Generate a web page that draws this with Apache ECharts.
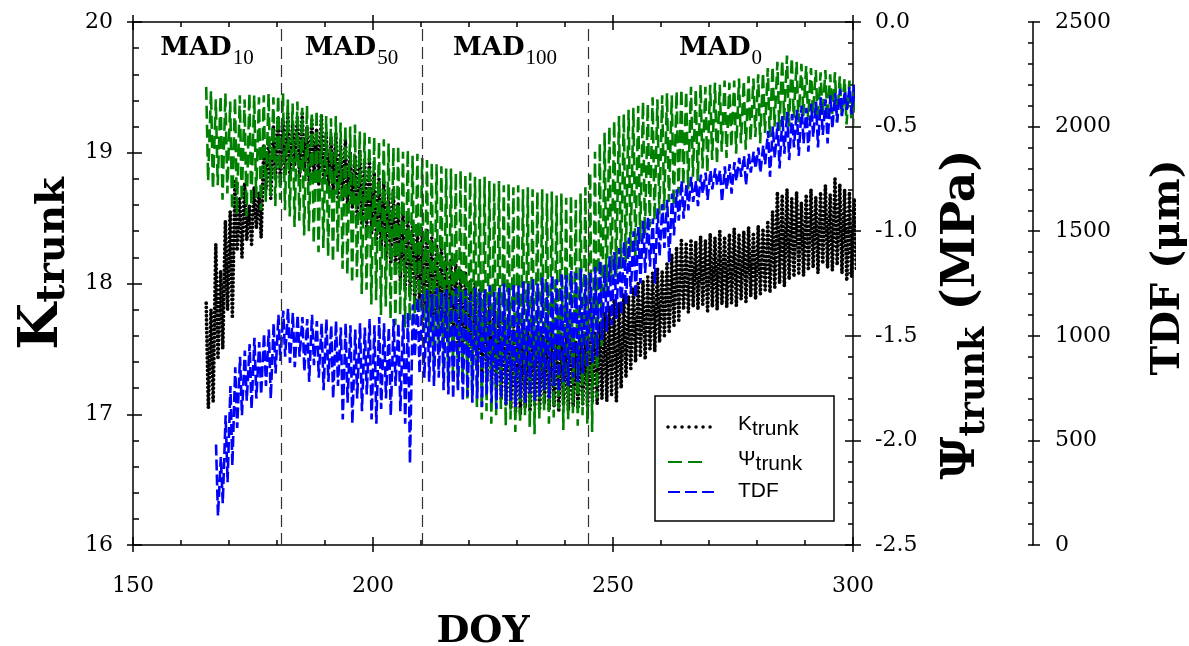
<!DOCTYPE html>
<html><head><meta charset="utf-8">
<script src="https://cdn.jsdelivr.net/npm/echarts@6/dist/echarts.min.js"></script>
<style>html,body{margin:0;padding:0;background:#fff}#c{width:1189px;height:646px}</style>
</head><body><div id="c"></div>
<script>
// ---------- data (daily maxima / minima) ----------
const kStart = 165;
const kHigh = [17.85,17.80,18.30,18.10,18.48,18.55,18.78,18.65,18.77,18.60,
18.74,18.70,19.05,19.10,19.20,19.28,19.25,19.30,19.22,19.27,
19.30,19.20,19.25,19.18,19.28,19.15,19.12,19.15,19.05,19.10,
19.00,18.98,19.02,18.92,18.95,18.85,18.80,18.78,18.70,18.72,
18.62,18.55,18.52,18.48,18.45,18.40,18.42,18.35,18.30,18.28,
18.22,18.18,18.15,18.10,18.08,18.02,18.00,17.95,17.92,17.88,
17.85,17.80,17.76,17.72,17.70,17.68,17.66,17.65,17.62,17.64,
17.60,17.62,17.64,17.60,17.62,17.58,17.60,17.56,17.60,17.62,
17.58,17.62,17.70,17.78,17.82,17.88,17.85,17.92,17.90,17.96,
18.00,18.02,18.05,18.08,18.12,18.10,18.15,18.22,18.28,18.33,
18.30,18.34,18.32,18.36,18.33,18.38,18.35,18.40,18.36,18.38,
18.42,18.37,18.40,18.43,18.39,18.44,18.42,18.48,18.55,18.70,
18.68,18.72,18.65,18.70,18.62,18.68,18.72,18.66,18.70,18.75,
18.68,18.80,18.76,18.72,18.70,18.65];
const kLow = [17.05,17.10,17.42,17.50,17.80,17.75,18.25,18.20,18.33,18.30,
18.42,18.35,18.72,18.65,18.80,18.78,18.85,18.80,18.90,18.82,
18.86,18.78,18.84,18.75,18.80,18.72,18.70,18.66,18.64,18.60,
18.58,18.50,18.45,18.42,18.38,18.33,18.28,18.20,18.15,18.10,
18.02,17.96,17.92,17.85,17.82,17.78,17.75,17.72,17.68,17.62,
17.58,17.55,17.50,17.48,17.42,17.40,17.35,17.30,17.25,17.22,
17.18,17.12,17.08,17.05,17.02,17.00,17.05,17.02,17.06,17.03,
17.08,17.04,17.06,17.02,17.07,17.03,17.06,17.04,17.08,17.05,
17.10,17.08,17.12,17.10,17.15,17.10,17.20,17.28,17.35,17.40,
17.45,17.42,17.50,17.48,17.55,17.60,17.62,17.68,17.72,17.80,
17.78,17.82,17.80,17.84,17.79,17.82,17.80,17.84,17.82,17.85,
17.83,17.88,17.86,17.90,17.88,17.92,17.95,17.93,17.97,18.00,
17.98,18.03,18.05,18.08,18.06,18.10,18.12,18.08,18.15,18.12,
18.10,18.14,18.08,18.02,18.05,18.10];

const psiStart = 165;
const psiHigh = [-0.31,-0.33,-0.37,-0.35,-0.34,-0.38,-0.36,-0.35,-0.37,-0.34,
-0.35,-0.36,-0.35,-0.34,-0.36,-0.35,-0.34,-0.37,-0.39,-0.38,
-0.41,-0.40,-0.43,-0.42,-0.44,-0.45,-0.46,-0.45,-0.48,-0.49,
-0.50,-0.49,-0.52,-0.53,-0.55,-0.55,-0.57,-0.56,-0.58,-0.60,
-0.59,-0.62,-0.61,-0.64,-0.63,-0.65,-0.66,-0.67,-0.68,-0.69,
-0.70,-0.70,-0.72,-0.71,-0.73,-0.72,-0.74,-0.75,-0.74,-0.76,
-0.77,-0.76,-0.78,-0.77,-0.79,-0.78,-0.80,-0.79,-0.80,-0.81,
-0.80,-0.82,-0.81,-0.83,-0.82,-0.84,-0.83,-0.85,-0.82,-0.79,
-0.72,-0.62,-0.58,-0.53,-0.50,-0.47,-0.45,-0.44,-0.42,-0.41,
-0.40,-0.38,-0.39,-0.36,-0.37,-0.35,-0.34,-0.35,-0.33,-0.32,
-0.33,-0.31,-0.32,-0.30,-0.31,-0.30,-0.29,-0.30,-0.28,-0.29,
-0.28,-0.27,-0.28,-0.26,-0.27,-0.25,-0.24,-0.22,-0.21,-0.19,
-0.18,-0.16,-0.17,-0.19,-0.20,-0.21,-0.22,-0.23,-0.24,-0.23,
-0.25,-0.24,-0.26,-0.27,-0.28,-0.30];
const psiLow = [-0.76,-0.80,-0.78,-0.85,-0.82,-0.90,-0.92,-0.86,-0.93,-0.88,
-0.84,-0.90,-0.86,-0.83,-0.88,-0.85,-0.90,-0.93,-0.98,-0.95,
-1.02,-1.00,-1.06,-1.10,-1.08,-1.12,-1.15,-1.10,-1.18,-1.21,
-1.25,-1.22,-1.30,-1.28,-1.35,-1.33,-1.40,-1.36,-1.42,-1.45,
-1.40,-1.46,-1.43,-1.44,-1.40,-1.48,-1.55,-1.62,-1.58,-1.66,
-1.70,-1.68,-1.75,-1.72,-1.80,-1.78,-1.84,-1.90,-1.86,-1.92,
-1.88,-1.85,-1.93,-1.90,-1.96,-1.92,-1.88,-1.94,-1.97,-1.90,
-1.86,-1.92,-1.89,-1.85,-1.95,-1.90,-1.87,-1.93,-1.88,-1.92,
-1.96,-1.80,-1.55,-1.30,-1.25,-1.22,-1.18,-1.15,-1.10,-1.12,
-1.05,-1.02,-0.98,-0.95,-0.92,-0.90,-0.86,-0.88,-0.82,-0.78,
-0.80,-0.74,-0.76,-0.70,-0.72,-0.66,-0.68,-0.62,-0.65,-0.60,
-0.63,-0.58,-0.61,-0.57,-0.55,-0.58,-0.53,-0.55,-0.50,-0.52,
-0.47,-0.50,-0.46,-0.48,-0.45,-0.47,-0.44,-0.48,-0.45,-0.47,
-0.44,-0.48,-0.45,-0.49,-0.46,-0.50];

const tdfStart = 167;
const tdfHigh = [480,420,620,760,850,900,930,960,990,970,
1010,1030,1060,1100,1120,1130,1110,1100,1090,1080,
1100,1070,1060,1080,1050,1070,1040,1060,1050,1030,
1060,1040,1080,1050,1090,1060,1040,1080,1060,1100,
1110,1150,1180,1200,1220,1200,1230,1210,1220,1200,
1230,1210,1220,1200,1230,1210,1220,1240,1210,1230,
1250,1230,1250,1240,1260,1250,1270,1250,1280,1260,
1290,1270,1300,1290,1310,1300,1320,1290,1300,1330,
1360,1340,1380,1400,1420,1450,1470,1500,1520,1550,
1570,1560,1610,1630,1650,1680,1700,1740,1720,1760,
1740,1770,1780,1790,1800,1790,1810,1820,1830,1850,
1860,1870,1880,1900,1910,1980,2000,2020,2050,2070,
2060,2080,2100,2090,2110,2120,2140,2130,2150,2160,
2180,2170,2190,2200];
const tdfLow = [140,200,300,380,560,620,690,650,700,720,
760,700,820,880,900,870,850,900,830,780,
860,800,740,780,700,760,600,680,580,700,
640,720,600,580,650,700,620,760,640,580,
390,900,820,800,780,760,800,740,720,700,
740,690,710,680,700,660,720,680,650,700,
670,690,660,700,680,720,690,710,740,700,
760,730,780,760,800,780,820,850,870,900,
980,1020,1050,1080,1100,1150,1200,1180,1250,1300,
1330,1250,1380,1420,1350,1480,1550,1560,1600,1640,
1620,1680,1650,1700,1720,1640,1700,1680,1740,1760,
1720,1780,1800,1780,1820,1760,1850,1800,1870,1840,
1900,1860,1920,1880,1950,1900,1960,1920,1990,2020,
2050,2080,2060,2100];

const treatmentBounds = [180.8, 210.2, 244.8];
const treatmentSubs = ['10', '50', '100', '0'];
const doyRange = [150, 300];
const kRange = [16, 20];
const psiRange = [-2.5, 0];
const tdfRange = [0, 2500];

// ---------- build diurnal series (one max and one min per day) ----------
function diurnal(start, hi, lo, tHi, tLo) {
  const out = [];
  for (let i = 0; i < hi.length; i++) {
    out.push([start + i + tHi, hi[i]]);
    out.push([start + i + tLo, lo[i]]);
  }
  return out;
}
const kData = diurnal(kStart, kHigh, kLow, 0.25, 0.7);
const psiData = diurnal(psiStart, psiHigh, psiLow, 0.25, 0.65);
const tdfData = diurnal(tdfStart, tdfHigh, tdfLow, 0.3, 0.7);

const SERIF = 'DejaVu Serif';
const SANS = 'Liberation Sans';
const black = {color: '#000', width: 1.5};
const lbl = {fontFamily: SERIF, fontSize: 22, color: '#000'};

function xAx(pos, inside, len, main) {
  return {type: 'value', gridIndex: 0, position: pos, min: doyRange[0], max: doyRange[1], interval: 50,
    axisLine: {show: main, onZero: false, lineStyle: black},
    axisTick: {show: true, inside: inside, length: len, lineStyle: black},
    minorTick: {show: main, splitNumber: 5, length: 5, lineStyle: black},
    splitLine: {show: false}, minorSplitLine: {show: false},
    axisLabel: {show: false}};
}
function yAx(pos, offset, range, interval, inside, len, main, minorLen) {
  return {type: 'value', gridIndex: 0, position: pos, offset: offset, min: range[0], max: range[1], interval: interval,
    axisLine: {show: main, onZero: false, lineStyle: black},
    axisTick: {show: true, inside: inside, length: len, lineStyle: black},
    minorTick: {show: main, splitNumber: 5, length: minorLen || 5, lineStyle: black},
    splitLine: {show: false}, minorSplitLine: {show: false},
    axisLabel: {show: false}};
}

const xMain = xAx('bottom', true, 8, true);
xMain.axisLabel = Object.assign({show: true, margin: 30}, lbl);
xMain.name = 'DOY'; xMain.nameLocation = 'middle'; xMain.nameGap = 68;
xMain.nameTextStyle = {fontFamily: SERIF, fontWeight: 'bold', fontSize: 38, color: '#000', padding: [0, 20, 0, 0]};

const yK = yAx('left', 0, kRange, 1, true, 9, true, 6);
yK.axisLabel = Object.assign({show: true, margin: 20}, lbl);
yK.name = 'K{s|trunk}'; yK.nameLocation = 'middle'; yK.nameRotate = 90; yK.nameGap = 72;
yK.nameTextStyle = {fontFamily: SERIF, fontWeight: 'bold', fontSize: 54, color: '#000', lineHeight: 58, verticalAlign: 'top',
  padding: [0, 0, 0, 40],
  rich: {s: {fontFamily: SERIF, fontWeight: 'bold', fontSize: 40, lineHeight: 42, verticalAlign: 'top', padding: [20, 0, 0, 0], color: '#000'}}};

const yPsi = yAx('right', 0, psiRange, 0.5, true, 8, true, 5);
yPsi.axisLabel = Object.assign({show: true, margin: 22, formatter: v => v.toFixed(1)}, lbl);
yPsi.name = 'Ψ{s|trunk} (MPa)'; yPsi.nameLocation = 'middle'; yPsi.nameRotate = 90; yPsi.nameGap = 84;
yPsi.nameTextStyle = {fontFamily: SERIF, fontWeight: 'bold', fontSize: 47, color: '#000', lineHeight: 50, verticalAlign: 'top',
  padding: [0, 62, 0, 0],
  rich: {s: {fontFamily: SERIF, fontWeight: 'bold', fontSize: 35, lineHeight: 36, verticalAlign: 'top', padding: [20, 0, 0, 0], color: '#000'}}};

const yTdf = yAx('right', 180, tdfRange, 500, true, 5, true, 5);
yTdf.axisLabel = Object.assign({show: true, margin: 22, formatter: v => String(v)}, lbl);
yTdf.name = 'TDF (μm)'; yTdf.nameLocation = 'middle'; yTdf.nameRotate = 90; yTdf.nameGap = 116;
yTdf.nameTextStyle = {fontFamily: SERIF, fontWeight: 'bold', fontSize: 40, color: '#000', padding: [0, 0, 0, 32]};

const option = {
  animation: false,
  backgroundColor: '#fff',
  grid: {left: 133, right: 336, top: 22, bottom: 101, containLabel: false, outerBoundsMode: 'none'},
  xAxis: [xMain, xAx('bottom', false, 7, false), xAx('top', true, 8, true), xAx('top', false, 7, false)],
  yAxis: [yK, yPsi, yTdf,
    yAx('left', 0, kRange, 1, false, 6, false),
    yAx('right', 0, psiRange, 0.5, false, 8, false),
    yAx('right', 180, tdfRange, 500, false, 7, false)],
  series: [
    {name: 'Ktrunk', type: 'line', xAxisIndex: 0, yAxisIndex: 0, data: kData, showSymbol: false, symbol: 'none',
      lineStyle: {color: '#000', width: 3.8, type: [0.01, 4.2], cap: 'round'},
      markLine: {silent: true, symbol: ['none', 'none'], label: {show: false},
        lineStyle: {color: '#333', width: 1.2, type: [12, 6]},
        data: treatmentBounds.map(v => ({xAxis: v}))}},
    {name: 'Ψtrunk', type: 'line', xAxisIndex: 0, yAxisIndex: 1, data: psiData, showSymbol: false, symbol: 'none',
      lineStyle: {color: '#008000', width: 2.6, type: [13, 6]}},
    {name: 'TDF', type: 'line', xAxisIndex: 0, yAxisIndex: 2, data: tdfData, showSymbol: false, symbol: 'none',
      lineStyle: {color: '#0000ff', width: 2.6, type: [11, 4]}}
  ]
};

const chart = echarts.init(document.getElementById('c'), null, {renderer: 'canvas'});
chart.setOption(option);

// treatment labels centred between boundaries, legend box
const edges = [doyRange[0]].concat(treatmentBounds, [doyRange[1]]);
const graphics = [];
treatmentSubs.forEach((sub, i) => {
  const mid = (edges[i] + edges[i + 1]) / 2;
  const px = chart.convertToPixel({xAxisIndex: 0}, mid);
  graphics.push({type: 'text', x: px, y: 35, z: 50, style: {
    text: '{a|MAD}{b|' + sub + '}', align: 'center', verticalAlign: 'top',
    rich: {a: {fontFamily: SERIF, fontWeight: 'bold', fontSize: 26, lineHeight: 30, verticalAlign: 'top', fill: '#000', color: '#000'},
           b: {fontFamily: 'Liberation Serif', fontSize: 21, lineHeight: 22, verticalAlign: 'top', padding: [13, 0, 0, 1], fill: '#000', color: '#000'}}}});
});
const legX = 655, legY = 396;
graphics.push({type: 'rect', z: 60, shape: {x: legX, y: legY, width: 179, height: 125}, style: {fill: '#fff', stroke: '#000', lineWidth: 1.5}});
const legRows = [
  {text: 'K{s|trunk}', stroke: '#000', width: 3.5, dash: [0.01, 7], cap: 'round', x2: 711, ly: 427, ty: 412},
  {text: 'Ψ{s|trunk}', stroke: '#008000', width: 2.2, dash: [14, 6], cap: 'butt', x2: 703, ly: 462, ty: 447},
  {text: 'TDF', stroke: '#0000ff', width: 2.2, dash: [12, 5], cap: 'butt', x2: 717, ly: 492, ty: 481}
];
legRows.forEach(r => {
  graphics.push({type: 'line', z: 61, shape: {x1: 668, y1: r.ly, x2: r.x2, y2: r.ly},
    style: {stroke: r.stroke, lineWidth: r.width, lineDash: r.dash, lineCap: r.cap}});
  graphics.push({type: 'text', z: 61, x: 738, y: r.ty, style: {text: r.text, align: 'left', verticalAlign: 'top',
    fontFamily: SANS, fontSize: 21, fill: '#000',
    rich: {s: {fontFamily: SANS, fontSize: 21, lineHeight: 24, verticalAlign: 'top', padding: [7, 0, 0, 0], fill: '#000'}}}});
});
chart.setOption({graphic: graphics});
</script>
</body></html>
